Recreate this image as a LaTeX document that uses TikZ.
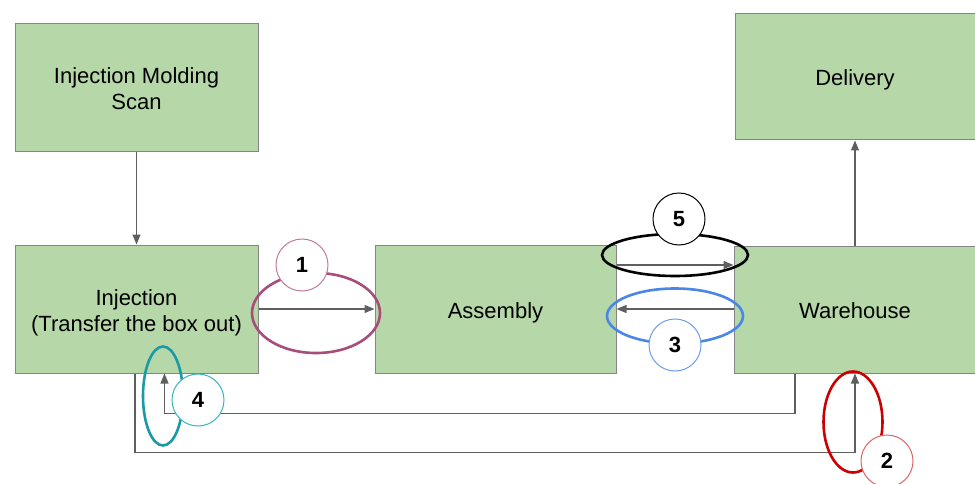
\documentclass[tikz,border=0pt]{standalone}
\usepackage{fontspec}
\setmainfont{Liberation Sans}
\usetikzlibrary{arrows.meta,shapes.geometric}
\definecolor{boxgreen}{HTML}{B6D7A8}
\definecolor{boxline}{HTML}{858585}
\definecolor{arrowgray}{HTML}{5F5F5F}
\definecolor{cpurple}{HTML}{A64D79}
\definecolor{cpurplel}{HTML}{C27BA0}
\definecolor{cblue}{HTML}{4A86E8}
\definecolor{cbluel}{HTML}{6D9EEB}
\definecolor{cteal}{HTML}{1B9AA6}
\definecolor{ctealL}{HTML}{3DB5BF}
\definecolor{cred}{HTML}{CC0000}
\definecolor{credl}{HTML}{E06666}
\tikzset{
  procbox/.style={rectangle, draw=boxline, line width=1pt, fill=boxgreen, inner sep=0pt,
    minimum width=243pt, minimum height=128pt, align=center,
    font=\fontsize{22}{26}\selectfont, text height=18pt, text depth=0pt},
  twoline/.style={text height=44pt, text depth=0pt},
  flow/.style={draw=arrowgray, line width=1.2pt, -{Triangle[length=10pt,width=8pt]}},
  ring/.style={ellipse, draw=#1, line width=2.6pt, inner sep=0pt},
  badge/.style={circle, draw=#1, line width=1pt, fill=white, minimum size=52pt, inner sep=0pt,
    font=\fontsize{22}{24}\selectfont\bfseries}
}
\begin{document}
\begin{tikzpicture}[x=1pt,y=-1pt]
\useasboundingbox (0,0) rectangle (975,484);
% boxes
\node[procbox, twoline] (ims) at (136.5,88) {Injection Molding\\Scan};
\node[procbox, minimum width=240pt, minimum height=126pt] (del) at (855,77) {Delivery};
\node[procbox, twoline] (inj) at (136.5,309) {Injection\\(Transfer the box out)};
\node[procbox, minimum width=241pt] (asm) at (495.5,309) {Assembly};
\node[procbox, minimum width=242pt, minimum height=127pt] (wh) at (855,309.5) {Warehouse};
% connectors
\draw[flow] (ims.south) -- (inj.north);
\draw[flow] (inj.east) -- (asm.west);
\draw[flow] ([yshift=44pt]asm.east) -- ([yshift=44pt]asm.east -| wh.west);
\draw[flow] (wh.west |- asm.east) -- (asm.east);
\draw[flow] (wh.north) -- (del.south);
\draw[flow] ([xshift=-60pt]wh.south) -- ++(0,40) -| ([xshift=28pt]inj.south);
\draw[flow] ([xshift=-1.5pt]inj.south) -- ++(0,79) -| (wh.south);
% highlight rings
\node[ring=cpurple, minimum width=128pt, minimum height=80pt] (r1) at (316,313) {};
\node[ring=black, minimum width=146pt, minimum height=42pt] (r5) at (675,255) {};
\node[ring=cblue, minimum width=136pt, minimum height=55pt] (r3) at (675,316) {};
\node[ring=cteal, minimum width=40pt, minimum height=99pt] (r4) at (163,396) {};
\node[ring=cred, minimum width=59pt, minimum height=101pt] (r2) at (853,422) {};
% number badges
\node[badge=cpurplel] (b1) at (302,265) {1};
\node[badge=black] (b5) at (679,219) {5};
\node[badge=cbluel] (b3) at (675,345) {3};
\node[badge=ctealL] (b4) at (198,400) {4};
\node[badge=credl] (b2) at (887,461) {2};
\end{tikzpicture}
\end{document}
